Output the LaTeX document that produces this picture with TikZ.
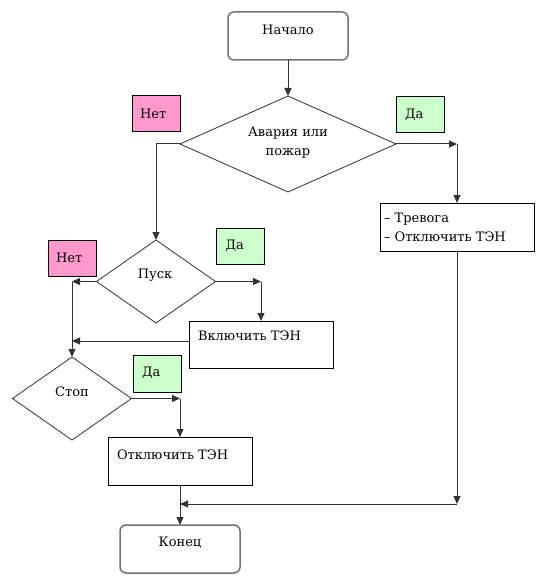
\documentclass[tikz,border=0pt]{standalone}
\usepackage{fontspec}
\setmainfont{DejaVu Serif}
\newfontfamily\rufont{DejaVu Serif}
\usetikzlibrary{shapes.geometric,arrows.meta,calc}
\definecolor{nopink}{HTML}{FF99CC}
\definecolor{yesgreen}{HTML}{CCFFCC}
\begin{document}
\begin{tikzpicture}[x=1pt,y=-1pt,
  every node/.style={inner sep=0pt,outer sep=0pt},
  txt/.style={font=\rufont\fontsize{13}{19}\selectfont},
  term/.style={draw=black!55,line width=1.5pt,rounded corners=6pt,minimum width=120pt,minimum height=48pt},
  proc/.style={draw=black,line width=1pt,minimum width=144pt,minimum height=48pt},
  dec/.style={draw=black!80,line width=0.8pt,diamond},
  lbl/.style={draw=black,line width=1pt,minimum width=48pt,minimum height=36pt},
  nolbl/.style={lbl,fill=nopink},
  yeslbl/.style={lbl,fill=yesgreen},
  conn/.style={draw=black!80,line width=1pt},
  arr/.style={conn,-{Triangle[length=8pt,width=7pt]}}
]
\useasboundingbox (0,0) rectangle (552,588);
% shapes
\node[term] (start) at (288,36) {};
\node[dec,minimum width=216pt,minimum height=96pt] (avar) at (288,144) {};
\node[nolbl] (no1) at (156,114) {};
\node[yeslbl] (yes1) at (420,114.5) {};
\node[proc,minimum width=154pt] (alarm) at (457,227) {};
\node[dec,minimum width=119pt,minimum height=83pt] (pusk) at (156,281.5) {};
\node[nolbl] (no2) at (72,258) {};
\node[yeslbl] (yes2) at (240.5,246) {};
\node[proc,minimum height=47pt] (vkl) at (261,344.5) {};
\node[dec,minimum width=119pt,minimum height=83pt] (stop) at (72,398.5) {};
\node[yeslbl,minimum height=37pt] (yes3) at (157,373.5) {};
\node[proc] (otkl) at (180,461) {};
\node[term] (konets) at (180,549) {};
% texts
\node[txt] (tstart) at (288,30) {Начало};
\node[txt,align=center] (tavar) at (288,143) {Авария или\\пожар};
\node[txt,anchor=west] (tno1) at ($(no1.west)+(8,0)$) {Нет};
\node[txt,anchor=west] (tyes1) at ($(yes1.west)+(9,0)$) {Да};
\node[txt,anchor=west,align=left] (talarm) at ($(alarm.west)+(4,0)$) {– Тревога\\– Отключить ТЭН};
\node[txt] (tpusk) at (155,275) {Пуск};
\node[txt,anchor=west] (tno2) at ($(no2.west)+(8,0)$) {Нет};
\node[txt,anchor=west] (tyes2) at ($(yes2.west)+(9,0)$) {Да};
\node[txt,anchor=west] (tvkl) at (198,336) {Включить ТЭН};
\node[txt] (tstop) at (72,392) {Стоп};
\node[txt,anchor=west] (tyes3) at ($(yes3.west)+(9,-1)$) {Да};
\node[txt,anchor=west] (totkl) at (117,455) {Отключить ТЭН};
\node[txt] (tkon) at (180,543) {Конец};
% helper coordinates
\coordinate (c1) at (avar.east -| alarm.north);
\coordinate (c2) at (457,504);
\coordinate (c3) at (180,504);
\coordinate (c4) at (pusk.east -| vkl.north);
\coordinate (c5) at (pusk.west -| stop.north);
\coordinate (c6) at ($(vkl.west)+(0,-3.5)$);
\coordinate (c7) at (c6 -| stop.north);
\coordinate (c8) at (stop.east -| otkl.north);
% connectors
\draw[arr] (start.south) -- (avar.north);
\draw[arr] (avar.west) -| (pusk.north);
\draw[arr] (avar.east) -- (c1);
\draw[arr] (c1) -- (alarm.north);
\draw[arr] (alarm.south) -- (c2);
\draw[arr] (c2) -- (c3);
\draw[arr] (pusk.east) -- (c4);
\draw[arr] (c4) -- (vkl.north);
\draw[arr] (pusk.west) -- (c5);
\draw[arr] (c5) -- (stop.north);
\draw[arr] (c6) -- (c7);
\draw[arr] (stop.east) -- (c8);
\draw[arr] (c8) -- (otkl.north);
\draw[arr] (otkl.south) -- (konets.north);
\end{tikzpicture}
\end{document}
